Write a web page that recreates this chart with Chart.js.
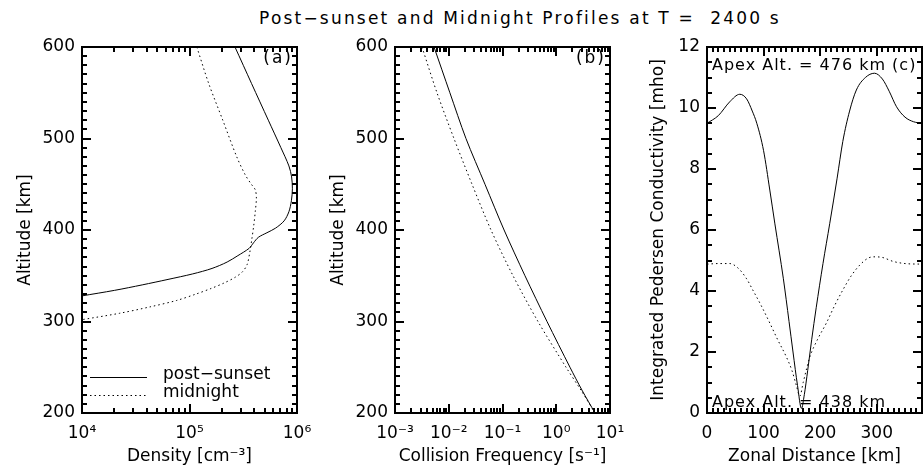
<!DOCTYPE html>
<html>
<head>
<meta charset="utf-8">
<script src="https://cdn.jsdelivr.net/npm/chart.js@4.4.0/dist/chart.umd.min.js"></script>
<style>
  body { margin: 0; background: #fff; }
  #wrap { position: relative; width: 924px; height: 472px; overflow: hidden; background: #fff; }
  canvas { position: absolute; top: 0; }
  #title {
    position: absolute; top: 8px; left: 0; width: 1040px; text-align: center;
    font: 17px "DejaVu Sans"; line-height: 20px; letter-spacing: 2.2px; white-space: pre; color: #000;
  }
</style>
</head>
<body>
<div id="wrap">
  <div id="title">Post−sunset and Midnight Profiles at T =  2400 s</div>
  <canvas id="chartA" width="320" height="472" style="left:0px"></canvas>
  <canvas id="chartB" width="330" height="472" style="left:300px"></canvas>
  <canvas id="chartC" width="324" height="472" style="left:600px"></canvas>
</div>
<script>
/* ---------- data ---------- */

// (a) electron density profiles
const altPostA = [600, 560, 520, 490, 470, 458, 445, 432, 420, 410, 402, 397, 392, 386, 380, 372, 365, 358, 352, 346, 340, 334, 328];
const denPostA = [2.65e5, 3.78e5, 5.41e5, 7.08e5, 8.41e5, 8.91e5, 9.06e5, 8.87e5, 8.41e5, 7.59e5, 6.31e5, 5.25e5, 4.37e5, 3.94e5, 3.59e5, 2.82e5, 2.24e5, 1.62e5, 1.07e5, 6.31e4, 3.63e4, 2.0e4, 1.0e4];
const altMidA  = [600, 560, 520, 480, 460, 450, 444, 435, 420, 405, 390, 375, 362, 354, 348, 342, 336, 330, 323, 316, 309, 302];
const denMidA  = [1.17e5, 1.51e5, 2.04e5, 2.75e5, 3.31e5, 3.76e5, 4.09e5, 4.19e5, 4.09e5, 3.96e5, 3.8e5, 3.63e5, 3.43e5, 3.09e5, 2.63e5, 2.09e5, 1.58e5, 1.15e5, 7.59e4, 4.3e4, 2.24e4, 1.0e4];
const densityTicks = [1e4, 1e5, 1e6];

// (b) collision frequency profiles
const altB     = [600, 550, 500, 450, 400, 350, 300, 250, 225, 200];
const freqPost = [5.32e-3, 1.05e-2, 2.09e-2, 4.72e-2, 0.107, 0.262, 0.673, 1.80, 3.01, 5.26];
const freqMid  = [3.18e-3, 6.04e-3, 1.25e-2, 2.71e-2, 6.11e-2, 0.157, 0.457, 1.52, 2.88, 5.26];
const freqTicks = [1e-3, 1e-2, 1e-1, 1e0, 1e1];

// (c) integrated Pedersen conductivity
const distPost  = [0, 20, 40, 58, 70, 80, 88, 100, 111, 120, 135, 145, 152, 160, 167, 172, 178, 185, 193, 205, 217, 230, 240, 252, 264, 280, 296, 310, 322, 335, 350, 365, 380];
const sigmaPost = [9.5, 9.75, 10.2, 10.45, 10.3, 9.9, 9.5, 8.6, 7.31, 6.2, 4.4, 3.0, 2.0, 0.9, 0.15, 0.6, 1.4, 2.4, 3.45, 4.9, 6.22, 7.7, 8.9, 9.9, 10.59, 11.0, 11.14, 10.95, 10.55, 10.04, 9.7, 9.55, 9.5];
const distMid   = [0, 20, 40, 55, 70, 81, 95, 111, 125, 140, 150, 158, 164, 170, 176, 182, 195, 211, 225, 240, 255, 270, 285, 295, 310, 329, 350, 380];
const sigmaMid  = [4.88, 4.9, 4.9, 4.75, 4.4, 4.03, 3.55, 2.95, 2.4, 1.85, 1.4, 0.9, 0.55, 1.0, 1.45, 1.85, 2.4, 2.95, 3.5, 4.03, 4.5, 4.85, 5.08, 5.12, 5.1, 4.97, 4.9, 4.88];
const zonalTicks = [0, 100, 200, 300];

/* ---------- helpers ---------- */

const FONT = 'DejaVu Sans';
const SUP = { '-': '⁻', '0': '⁰', '1': '¹', '2': '²', '3': '³', '4': '⁴', '5': '⁵', '6': '⁶', '7': '⁷', '8': '⁸', '9': '⁹' };
const pow10 = v => '10' + String(Math.round(Math.log10(v))).split('').map(c => SUP[c]).join('');
const pts = (xs, ys) => xs.map((x, i) => ({ x, y: ys[i] }));

function line(data, dotted, smooth) {
  return Object.assign({
    data,
    showLine: true,
    borderColor: '#000',
    borderWidth: 1,
    borderDash: dotted ? [1.5, 3] : [],
    pointRadius: 0,
    tension: 0,
    fill: false
  }, smooth || {});
}

// tick positions for the IDL-style box: [value, isMajor]
function boxTicks(scale, step, majors) {
  const out = [];
  const lo = scale.min, hi = scale.max;
  if (!step) {
    // log axis: 1..9 per decade
    const e0 = Math.floor(Math.log10(lo) + 1e-9), e1 = Math.ceil(Math.log10(hi) - 1e-9);
    for (let e = e0; e <= e1; e++) {
      for (let k = 1; k < 10; k++) {
        const v = k * Math.pow(10, e);
        if (v >= lo * 0.999 && v <= hi * 1.001) out.push([v, k === 1]);
      }
    }
  } else {
    const n = Math.round((hi - lo) / step);
    for (let i = 0; i <= n; i++) {
      const v = lo + i * step;
      out.push([v, majors.some(m => Math.abs(m - v) < step / 10)]);
    }
  }
  return out;
}

// frame, inward ticks on all four sides, text marks and legend
function boxPlugin(cfg) {
  return {
    id: 'box',
    afterDraw(chart) {
      const ctx = chart.ctx;
      const a = chart.chartArea;
      const xs = chart.scales.x, ys = chart.scales.y;
      const L = Math.round(a.left), R = Math.round(a.right), T = Math.round(a.top), B = Math.round(a.bottom);
      ctx.save();
      ctx.fillStyle = '#000';

      ctx.fillRect(L - 1, T - 1, R - L + 2, 2);
      ctx.fillRect(L - 1, B - 1, R - L + 2, 2);
      ctx.fillRect(L - 1, T - 1, 2, B - T + 2);
      ctx.fillRect(R - 1, T - 1, 2, B - T + 2);

      const xMaj = xs.ticks.map(t => t.value), yMaj = ys.ticks.map(t => t.value);
      boxTicks(xs, cfg.xMinor, xMaj).forEach(([v, major]) => {
        const p = Math.round(xs.getPixelForValue(v));
        const len = major ? 9 : 5;
        ctx.fillRect(p - 1, B - len, 2, len);
        ctx.fillRect(p - 1, T, 2, len);
      });
      boxTicks(ys, cfg.yMinor, yMaj).forEach(([v, major]) => {
        const p = Math.round(ys.getPixelForValue(v));
        const len = major ? 9 : 5;
        ctx.fillRect(L, p - 1, len, 2);
        ctx.fillRect(R - len, p - 1, len, 2);
      });

      ctx.textBaseline = 'middle';
      (cfg.labels || []).forEach(l => {
        ctx.font = l.size + 'px "' + FONT + '"';
        ctx.letterSpacing = l.spacing + 'px';
        ctx.textAlign = l.align || 'left';
        const x = l.align === 'right' ? R + l.dx : L + l.dx;
        const y = l.fromBottom ? B + l.dy : T + l.dy;
        ctx.fillText(l.text, x, y);
      });
      ctx.letterSpacing = '0px';

      ctx.strokeStyle = '#000';
      ctx.textBaseline = 'alphabetic';
      (cfg.legend || []).forEach(g => {
        ctx.lineWidth = 1;
        ctx.setLineDash(g.dotted ? [1.5, 3] : []);
        ctx.beginPath();
        ctx.moveTo(L + 8, T + g.dy + 0.5);
        ctx.lineTo(L + 65, T + g.dy + 0.5);
        ctx.stroke();
        ctx.setLineDash([]);
        ctx.font = '17px "' + FONT + '"';
        ctx.textAlign = 'left';
        ctx.fillText(g.text, L + 81, T + g.dy + 1.5);
      });
      ctx.restore();
    }
  };
}

function fixedWidth(w) {
  return s => { s.width = w; s.paddingLeft = s.paddingRight = s.paddingTop = s.paddingBottom = 0; };
}
function fixedHeight(h) {
  return s => { s.height = h; s.paddingLeft = s.paddingRight = s.paddingTop = s.paddingBottom = 0; };
}

const tickFont = { family: FONT, size: 17 };

function xAxis(extra, title) {
  return Object.assign({
    position: 'bottom',
    grid: { display: false, drawTicks: false },
    border: { display: false },
    ticks: { color: '#000', font: tickFont, padding: 10, maxRotation: 0, autoSkip: false },
    title: { display: true, text: title, color: '#000', font: tickFont, padding: { top: 0, bottom: 5 } },
    afterFit: fixedHeight(59)
  }, extra);
}

function yAxis(extra, title, width, titlePad) {
  return Object.assign({
    position: 'left',
    grid: { display: false, drawTicks: false },
    border: { display: false },
    title: { display: true, text: title, color: '#000', font: tickFont, padding: { top: titlePad, bottom: 0 } },
    afterFit: fixedWidth(width)
  }, extra);
}

function draw(id, datasets, scales, padRight, box) {
  return new Chart(document.getElementById(id), {
    type: 'scatter',
    data: { datasets },
    options: {
      responsive: false,
      animation: false,
      devicePixelRatio: 1,
      layout: { padding: { top: 47, right: padRight, bottom: 0, left: 0 } },
      plugins: { legend: { display: false }, tooltip: { enabled: false } },
      scales
    },
    plugins: [boxPlugin(box)]
  });
}

/* ---------- panels ---------- */

const smoothA = { tension: 0.3 };
const smoothC = { cubicInterpolationMode: 'monotone' };

// (a) Density
draw('chartA',
  [line(pts(denPostA, altPostA), false, smoothA), line(pts(denMidA, altMidA), true, smoothA)],
  {
    x: xAxis({
      type: 'logarithmic', min: 1e4, max: 1e6,
      ticks: { color: '#000', font: tickFont, padding: 10, maxRotation: 0, autoSkip: false, callback: v => pow10(v) },
      afterBuildTicks: s => { s.ticks = densityTicks.map(v => ({ value: v })); }
    }, 'Density [cm⁻³]'),
    y: yAxis({ type: 'linear', min: 200, max: 600, ticks: { color: '#000', font: tickFont, padding: 7, stepSize: 100 } }, 'Altitude [km]', 82, 15)
  }, 23,
  {
    xMinor: 0, yMinor: 10,
    labels: [{ text: '(a)', align: 'right', dx: -4, dy: 12, size: 17, spacing: 2 }],
    legend: [{ text: 'post−sunset', dy: 330, dotted: false }, { text: 'midnight', dy: 348, dotted: true }]
  });

// (b) Collision frequency
draw('chartB',
  [line(pts(freqPost, altB), false, smoothA), line(pts(freqMid, altB), true, smoothA)],
  {
    x: xAxis({
      type: 'logarithmic', min: 1e-3, max: 1e1,
      ticks: { color: '#000', font: tickFont, padding: 10, maxRotation: 0, autoSkip: false, callback: v => pow10(v) },
      afterBuildTicks: s => { s.ticks = freqTicks.map(v => ({ value: v })); }
    }, 'Collision Frequency [s⁻¹]'),
    y: yAxis({ type: 'linear', min: 200, max: 600, ticks: { color: '#000', font: tickFont, padding: 7, stepSize: 100 } }, 'Altitude [km]', 95, 28)
  }, 20,
  {
    xMinor: 0, yMinor: 10,
    labels: [{ text: '(b)', align: 'right', dx: -4, dy: 12, size: 17, spacing: 2 }]
  });

// (c) Integrated Pedersen conductivity
draw('chartC',
  [line(pts(distPost, sigmaPost), false, smoothC), line(pts(distMid, sigmaMid), true, smoothC)],
  {
    x: xAxis({
      type: 'linear', min: 0, max: 380,
      afterBuildTicks: s => { s.ticks = zonalTicks.map(v => ({ value: v })); }
    }, 'Zonal Distance [km]'),
    y: yAxis({ type: 'linear', min: 0, max: 12, ticks: { color: '#000', font: tickFont, padding: 7, stepSize: 2 } }, 'Integrated Pedersen Conductivity [mho]', 107, 48)
  }, 2,
  {
    xMinor: 10, yMinor: 0.5,
    labels: [
      { text: 'Apex Alt. = 476 km (c)', dx: 5, dy: 19, size: 16, spacing: 1 },
      { text: 'Apex Alt. = 438 km', dx: 5, dy: -10, fromBottom: true, size: 16, spacing: 1 }
    ]
  });
</script>
</body>
</html>
